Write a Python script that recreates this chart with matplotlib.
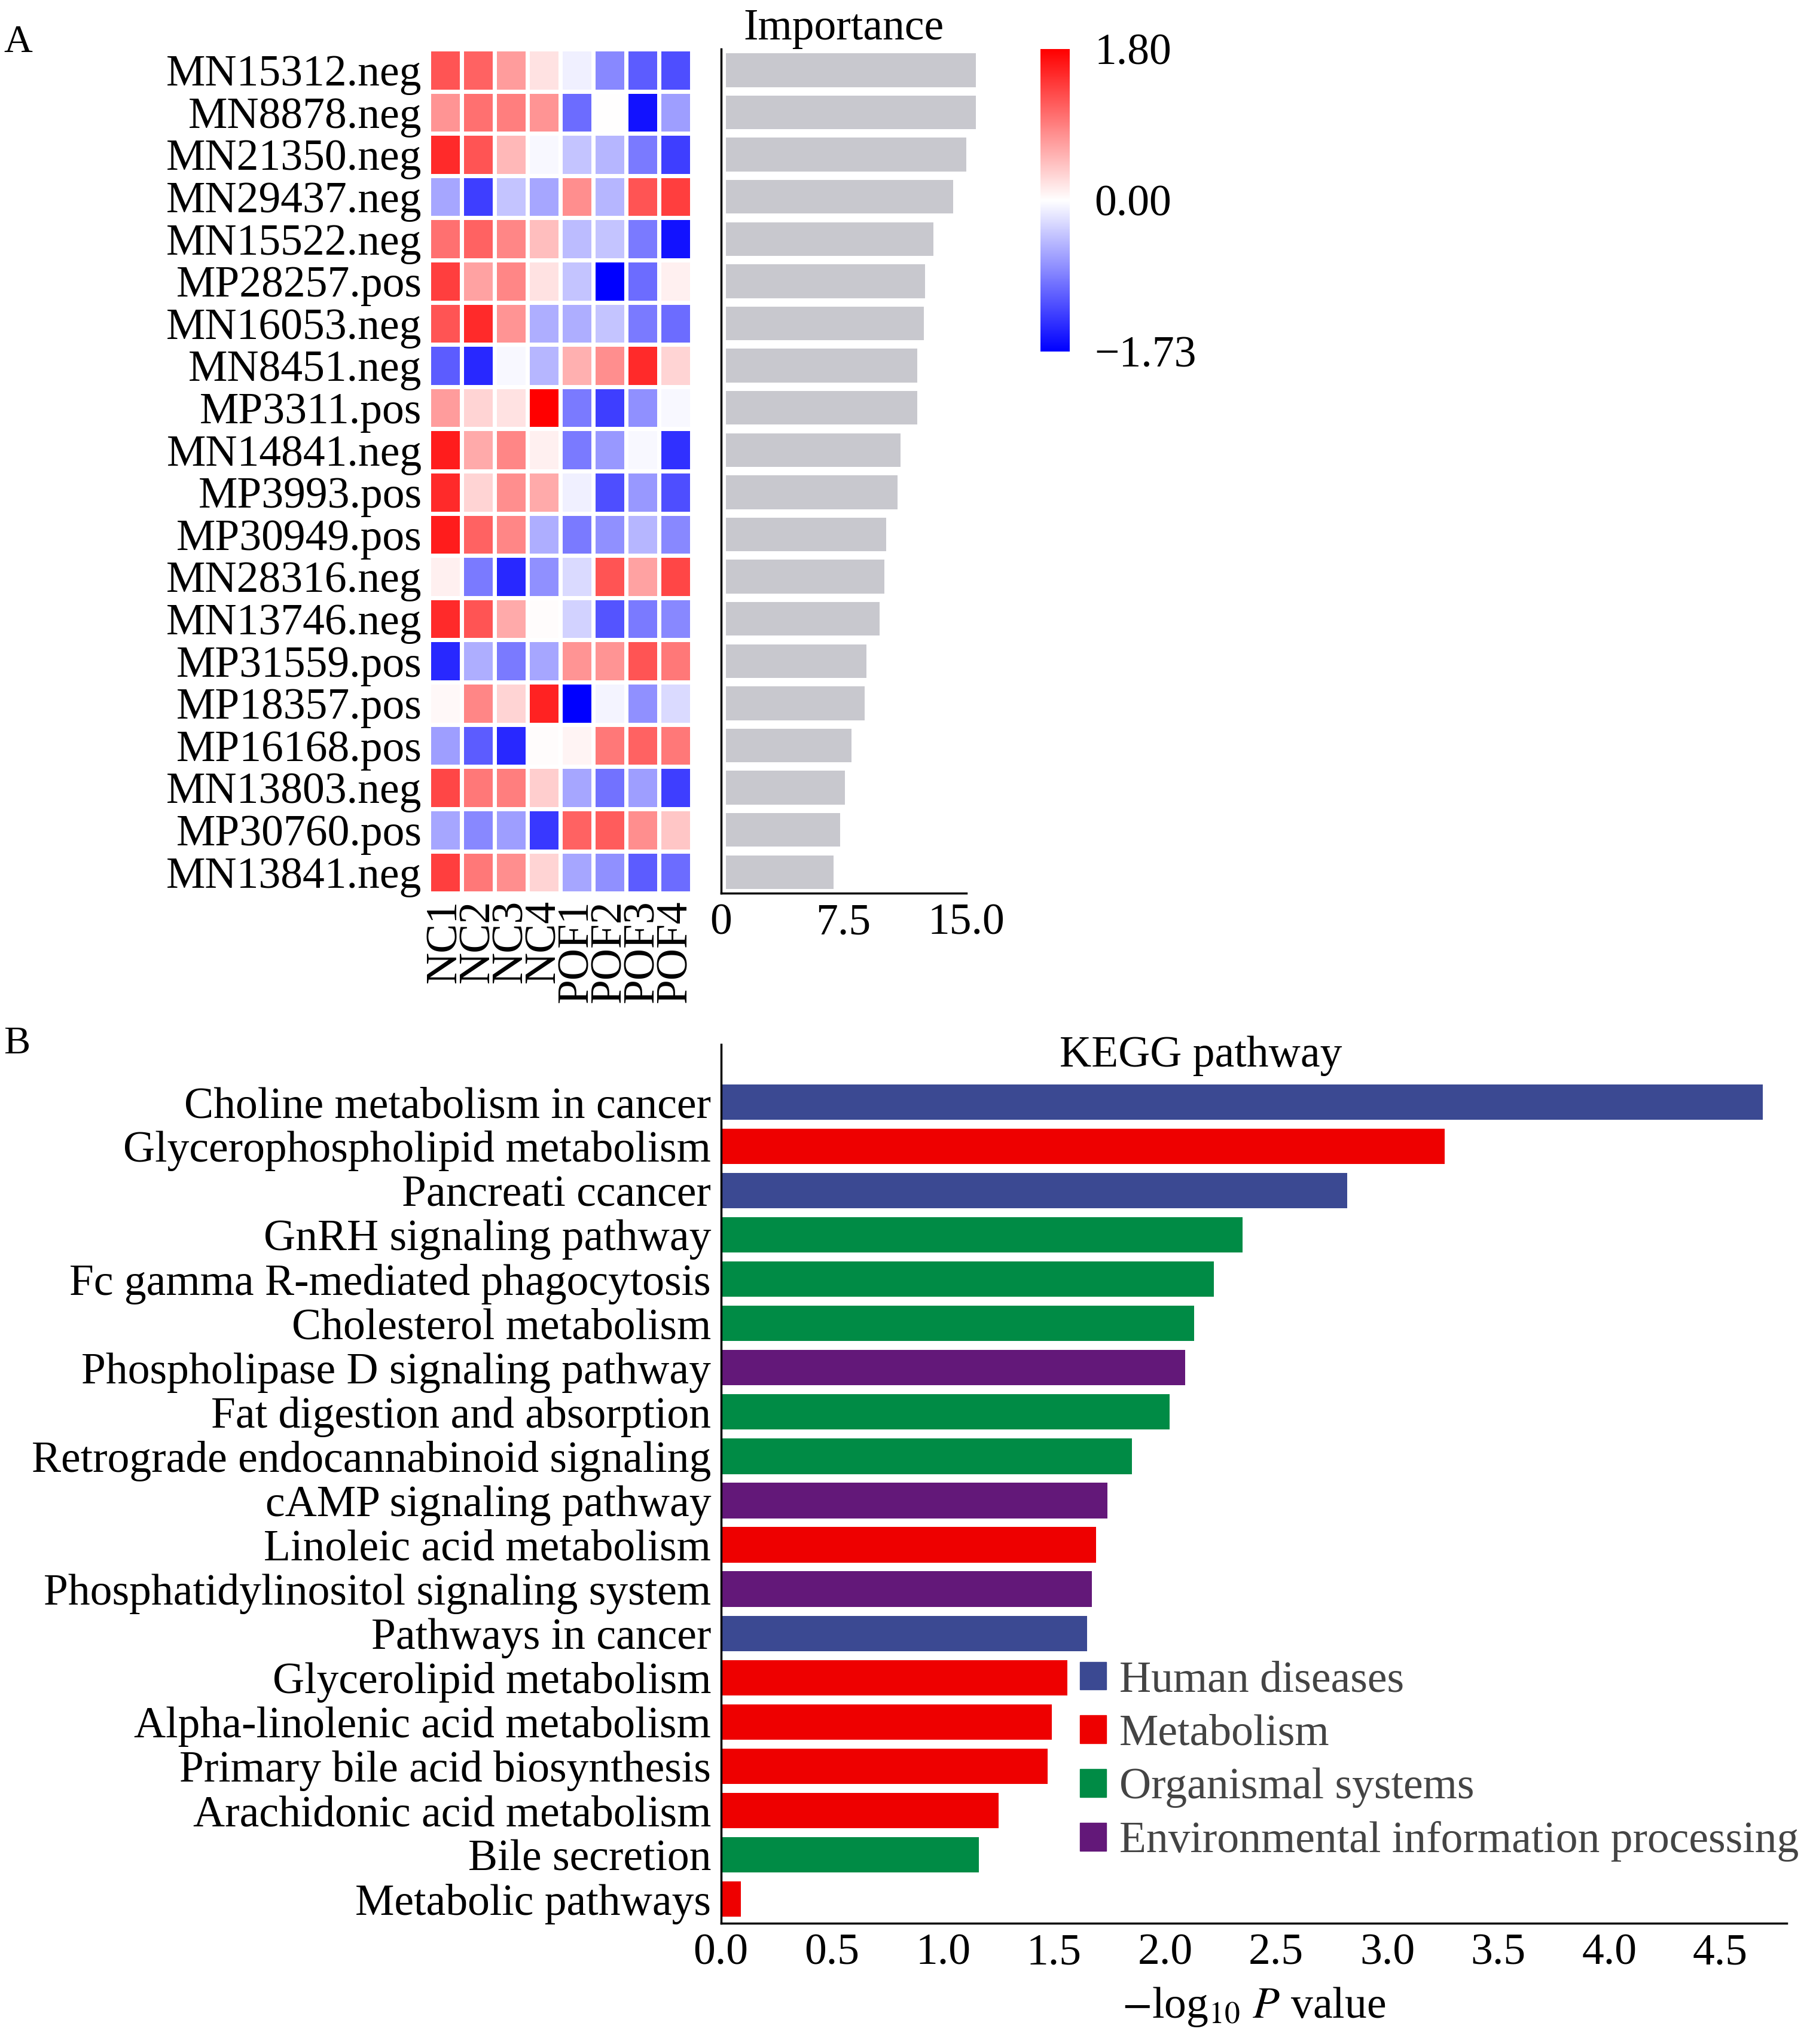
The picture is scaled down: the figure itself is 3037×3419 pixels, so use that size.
import numpy as np
import matplotlib.pyplot as plt
from matplotlib.colors import LinearSegmentedColormap, TwoSlopeNorm
from matplotlib.patches import Patch

plt.rcParams['font.family'] = ['Liberation Serif', 'DejaVu Serif']
plt.rcParams['mathtext.fontset'] = 'stix'

features = ["MN15312.neg", "MN8878.neg", "MN21350.neg", "MN29437.neg", "MN15522.neg",
            "MP28257.pos", "MN16053.neg", "MN8451.neg", "MP3311.pos", "MN14841.neg",
            "MP3993.pos", "MP30949.pos", "MN28316.neg", "MN13746.neg", "MP31559.pos",
            "MP18357.pos", "MP16168.pos", "MN13803.neg", "MP30760.pos", "MN13841.neg"]
samples = ["NC1", "NC2", "NC3", "NC4", "POF1", "POF2", "POF3", "POF4"]
zscores = [
    [1.2, 1.1, 0.7, 0.2, -0.1, -0.8, -1.1, -1.2],
    [0.75, 1.0, 0.9, 0.75, -1.0, 0.0, -1.6, -0.65],
    [1.5, 1.2, 0.5, -0.05, -0.4, -0.5, -0.9, -1.3],
    [-0.6, -1.3, -0.4, -0.6, 0.8, -0.5, 1.2, 1.35],
    [1.0, 1.1, 0.85, 0.45, -0.45, -0.4, -0.9, -1.6],
    [1.35, 0.65, 0.85, 0.2, -0.4, -1.73, -1.0, 0.1],
    [1.2, 1.5, 0.75, -0.55, -0.55, -0.4, -0.9, -1.0],
    [-1.1, -1.45, -0.05, -0.5, 0.55, 0.8, 1.5, 0.3],
    [0.7, 0.3, 0.2, 1.8, -0.9, -1.3, -0.75, -0.05],
    [1.6, 0.6, 0.85, 0.1, -0.9, -0.7, -0.05, -1.4],
    [1.5, 0.3, 0.8, 0.6, -0.1, -1.2, -0.7, -1.2],
    [1.6, 1.1, 0.85, -0.55, -0.9, -0.75, -0.5, -0.8],
    [0.1, -0.9, -1.45, -0.75, -0.25, 1.2, 0.65, 1.3],
    [1.5, 1.2, 0.6, 0.02, -0.3, -1.15, -0.9, -0.8],
    [-1.45, -0.55, -0.9, -0.6, 0.75, 0.75, 1.2, 0.95],
    [0.05, 0.85, 0.3, 1.55, -1.73, -0.08, -0.75, -0.25],
    [-0.65, -1.1, -1.45, 0.02, 0.08, 0.95, 1.1, 0.95],
    [1.3, 0.95, 0.9, 0.35, -0.6, -0.95, -0.65, -1.3],
    [-0.6, -0.8, -0.65, -1.35, 1.1, 1.15, 0.8, 0.4],
    [1.35, 0.95, 0.8, 0.3, -0.6, -0.75, -1.1, -1.0],
]
importance = [15.3, 15.3, 14.7, 13.9, 12.7, 12.2, 12.1, 11.7, 11.7, 10.7,
              10.5, 9.8, 9.7, 9.4, 8.6, 8.5, 7.7, 7.3, 7.0, 6.6]

pathways = ["Choline metabolism in cancer", "Glycerophospholipid metabolism", "Pancreati ccancer",
            "GnRH signaling pathway", "Fc gamma R-mediated phagocytosis", "Cholesterol metabolism",
            "Phospholipase D signaling pathway", "Fat digestion and absorption",
            "Retrograde endocannabinoid signaling", "cAMP signaling pathway",
            "Linoleic acid metabolism", "Phosphatidylinositol signaling system",
            "Pathways in cancer", "Glycerolipid metabolism", "Alpha-linolenic acid metabolism",
            "Primary bile acid biosynthesis", "Arachidonic acid metabolism", "Bile secretion",
            "Metabolic pathways"]
logp = [4.69, 3.26, 2.82, 2.35, 2.22, 2.13, 2.09, 2.02, 1.85, 1.74, 1.69, 1.67, 1.65,
        1.56, 1.49, 1.47, 1.25, 1.16, 0.09]
classes = ["H", "M", "H", "O", "O", "O", "E", "O", "O", "E", "M", "E", "H", "M", "M", "M", "M", "O", "M"]
class_names = {"H": "Human diseases", "M": "Metabolism", "O": "Organismal systems",
               "E": "Environmental information processing"}
class_colors = {"H": "#3B4992", "M": "#EE0000", "O": "#008B45", "E": "#631879"}

fs = 53
fig = plt.figure(figsize=(30.37, 34.19), dpi=100)

# --- A: heatmap ---
cmap = LinearSegmentedColormap.from_list("bwr2", ["#0000FF", "#FFFFFF", "#FF0000"])
norm = TwoSlopeNorm(vmin=-1.73, vcenter=0, vmax=1.80)
axh = fig.add_axes([0.236, 0.563, 0.145, 0.413])
data = np.array(zscores)
im = axh.pcolormesh(data, cmap=cmap, norm=norm, edgecolors="white", linewidth=5)
axh.set_ylim(len(features), 0)
axh.set_yticks(np.arange(len(features)) + 0.5)
axh.set_yticklabels(features, fontsize=fs)
axh.set_xticks(np.arange(len(samples)) + 0.5)
axh.set_xticklabels(samples, fontsize=fs, rotation=90)
axh.tick_params(length=0, pad=8)
for s in axh.spines.values():
    s.set_visible(False)

# importance bars
axi = fig.add_axes([0.397, 0.563, 0.135, 0.413])
axi.barh(np.arange(len(importance)), importance, height=0.8, color="#C8C8CE", clip_on=False,
         left=0.3)
axi.set_ylim(len(importance) - 0.5, -0.5)
axi.set_xlim(0, 15)
axi.set_xticks([0, 7.5, 15])
axi.set_xticklabels(["0", "7.5", "15.0"], fontsize=fs)
axi.set_yticks([])
axi.tick_params(axis="x", length=0, pad=12)
axi.spines["top"].set_visible(False)
axi.spines["right"].set_visible(False)
axi.spines["left"].set_linewidth(2.5)
axi.spines["bottom"].set_linewidth(2.5)
axi.set_title("Importance", fontsize=fs, pad=8)

# colorbar
axc = fig.add_axes([0.573, 0.828, 0.016, 0.148])
cb = fig.colorbar(im, cax=axc, ticks=[-1.73, 0, 1.80])
cb.ax.set_yticklabels(["\u22121.73", "0.00", "1.80"], fontsize=fs)
cb.ax.tick_params(length=0, pad=30)
cb.outline.set_visible(False)

fig.text(0.002, 0.988, "A", fontsize=fs * 0.9, va="top")

# --- B: KEGG ---
axk = fig.add_axes([0.397, 0.059, 0.587, 0.43])
y = np.arange(len(pathways))
axk.barh(y, logp, height=0.8, color=[class_colors[c] for c in classes])
axk.set_ylim(len(pathways) - 0.45, -1.3)
axk.set_xlim(0, 4.8)
axk.set_xticks(np.arange(0, 4.6, 0.5))
axk.set_xticklabels([f"{v:.1f}" for v in np.arange(0, 4.6, 0.5)], fontsize=fs)
axk.set_yticks(y)
axk.set_yticklabels(pathways, fontsize=fs)
axk.tick_params(length=0, pad=12)
axk.spines["top"].set_visible(False)
axk.spines["right"].set_visible(False)
axk.spines["left"].set_linewidth(2.5)
axk.spines["bottom"].set_linewidth(2.5)
axk.set_xlabel(r"$-$log$_{10}$ $P$ value", fontsize=fs, labelpad=14)
axk.text(0.45, 1.01, "KEGG pathway", transform=axk.transAxes, fontsize=fs, ha="center", va="top")
handles = [Patch(color=class_colors[k], label=class_names[k]) for k in ["H", "M", "O", "E"]]
leg = axk.legend(handles=handles, loc="lower left", bbox_to_anchor=(0.32, 0.05), frameon=False,
                 fontsize=fs, handlelength=0.6, handleheight=0.6, handletextpad=0.3,
                 labelspacing=0.3, borderaxespad=0)
for t in leg.get_texts():
    t.set_color("#444444")

fig.text(0.002, 0.498, "B", fontsize=fs * 0.9, va="top")

fig.savefig("out.png", dpi=100)
